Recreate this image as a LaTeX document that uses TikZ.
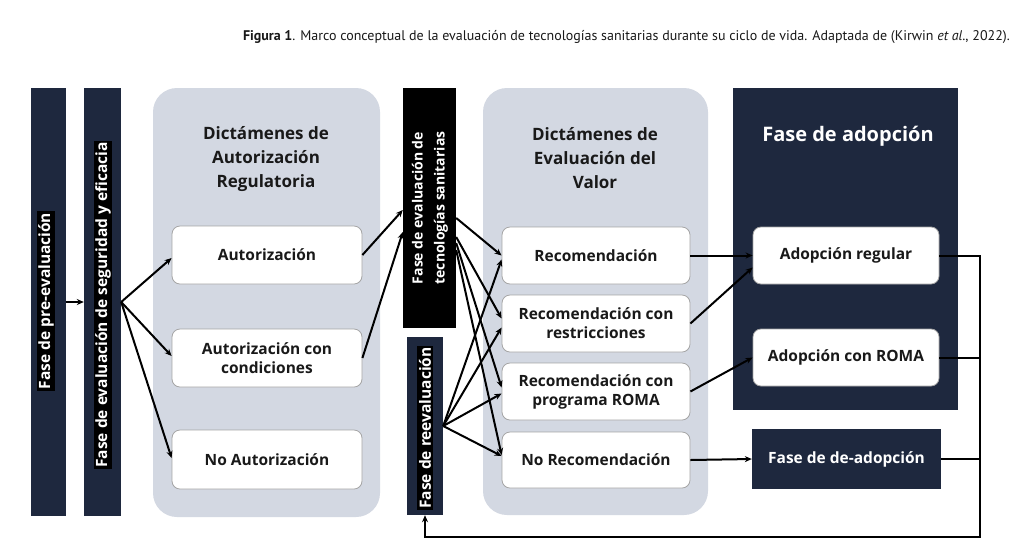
\documentclass[tikz,border=0pt]{standalone}
\usepackage{fontspec}
\setmainfont{Open Sans}
\newfontfamily\capfont{PT Sans}
\usetikzlibrary{arrows.meta,calc}
\definecolor{navy}{RGB}{30,40,62}
\definecolor{panelgray}{RGB}{211,216,226}
\definecolor{boxborder}{RGB}{165,165,165}
\definecolor{txt}{RGB}{25,25,25}
\tikzset{
  phase/.style={fill=navy, draw=none, inner sep=0pt},
  panel/.style={fill=panelgray, draw=none, rounded corners=24pt, inner sep=0pt},
  wbox/.style={fill=white, draw=boxborder, line width=0.8pt, rounded corners=8pt,
    font=\bfseries\fontsize{15.5}{19}\selectfont, align=center, text=txt, inner sep=0pt},
  vlabel/.style={rotate=90, fill=black, text=white,
    font=\bfseries\fontsize{15.5}{19}\selectfont, inner sep=1.5pt, align=center},
  ptitle/.style={font=\bfseries\fontsize{17}{24}\selectfont, align=center, text=txt},
  arr/.style={-{Stealth[length=7pt,width=6pt]}, line width=2pt},
  ln/.style={line width=2pt}
}
\begin{document}
\begin{tikzpicture}[x=1pt,y=-1pt]
\useasboundingbox (0,0) rectangle (1024,558);
\fill[white] (0,0) rectangle (1024,558);

% caption
\node[anchor=east, inner sep=0pt, font=\capfont\fontsize{14}{16}\selectfont, text=txt] (cap) at (1010,37)
  {\textbf{Figura 1}. Marco conceptual de la evaluación de tecnologías sanitarias durante su ciclo de vida. Adaptada de (Kirwin \textit{et al.}, 2022).};

% phase bars
\node[phase, minimum width=35pt, minimum height=428pt] (bar1) at (48,302) {};
\node[vlabel] (bar1l) at (46,301) {Fase de pre-evaluación};
\node[phase, minimum width=37pt, minimum height=428pt] (bar2) at (102.5,302) {};
\node[vlabel] (bar2l) at (103,305) {Fase de evaluación de seguridad y eficacia};

% panel 1
\node[panel, minimum width=227pt, minimum height=429pt] (p1) at (266.5,302.5) {};
\node[ptitle] (t1) at (266,159) {Dictámenes de\\Autorización\\Regulatoria};
\node[wbox, minimum width=190pt, minimum height=58pt] (aut) at (267,255) {Autorización};
\node[wbox, minimum width=190pt, minimum height=58pt] (autc) at (267,358) {Autorización con\\condiciones};
\node[wbox, minimum width=190pt, minimum height=59pt] (noaut) at (267,459.5) {No Autorización};

% HTA and reevaluation
\node[fill=black, minimum width=53pt, minimum height=240pt, inner sep=0pt] (hta) at (429.5,208) {};
\node[vlabel, font=\bfseries\fontsize{14}{22}\selectfont] (htal) at (430,208) {Fase de evaluación de\\tecnologías sanitarias};
\node[phase, minimum width=36pt, minimum height=178pt] (reev) at (425,426) {};
\node[vlabel] (reevl) at (425,428) {Fase de reevaluación};

% panel 2
\node[panel, minimum width=225pt, minimum height=427pt] (p2) at (595.5,301.5) {};
\node[ptitle] (t2) at (595,158) {Dictámenes de\\Evaluación del\\Valor};
\node[wbox, minimum width=188pt, minimum height=57pt] (rec) at (596,255.5) {Recomendación};
\node[wbox, minimum width=188pt, minimum height=57pt] (rres) at (596,323.5) {Recomendación con\\restricciones};
\node[wbox, minimum width=188pt, minimum height=57pt] (rroma) at (596,391.5) {Recomendación con\\programa ROMA};
\node[wbox, minimum width=188pt, minimum height=56pt] (norec) at (596,460) {No Recomendación};

% adoption
\node[phase, minimum width=225pt, minimum height=322pt] (adop) at (845.5,249) {};
\node[font=\bfseries\fontsize{20}{24}\selectfont, text=white] (adopt) at (848,136) {Fase de adopción};
\node[wbox, minimum width=186pt, minimum height=57pt] (adreg) at (846,255.5) {Adopción regular};
\node[wbox, minimum width=186pt, minimum height=57pt] (adroma) at (846,357.5) {Adopción con ROMA};
\node[phase, minimum width=189pt, minimum height=60pt, text=white,
  font=\bfseries\fontsize{15.5}{19}\selectfont] (deadop) at (846.5,459) {Fase de de-adopción};

% connectors
\draw[arr] (bar1.east) -- (bar2.west);
\draw[arr] (bar2.east) -- ($(aut.west)+(0,3)$);
\draw[arr] (bar2.east) -- ($(autc.west)+(0,-2)$);
\draw[arr] (bar2.east) -- ($(noaut.west)+(0,-1.5)$);

\draw[arr] (aut.east) -- ($(hta.west)+(0,2)$);
\draw[arr] (autc.east) -- ($(hta.west)+(0,24)$);

\draw[arr] ($(hta.east)+(0,10)$) -- ($(rec.west)+(0,0)$);
\draw[arr] ($(hta.east)+(0,29)$) -- ($(rres.west)+(0,-5)$);
\draw[arr] ($(hta.east)+(0,35)$) -- ($(rroma.west)+(0,-4)$);
\draw[arr] ($(hta.east)+(0,42)$) -- ($(norec.west)+(0,-5)$);

\draw[arr] (reev.east) -- ($(rec.west)+(0,4)$);
\draw[arr] (reev.east) -- ($(rres.west)+(0,4)$);
\draw[arr] (reev.east) -- ($(rroma.west)+(0,2)$);
\draw[arr] (reev.east) -- ($(norec.west)+(0,-4)$);

\draw[arr] (rec.east) -- (adreg.west);
\draw[arr] (rres.east) -- ($(adreg.west)+(0,12)$);
\draw[arr] (rroma.east) -- (adroma.west);
\draw[arr] (norec.east) -- (deadop.west);

% feedback loop
\coordinate (lb) at (980,537);
\draw[arr] (adreg.east) -- (adreg.east -| lb) -- (lb) -- (reev.south |- lb) -- (reev.south);
\draw[ln] (adroma.east) -- (adroma.east -| lb);
\draw[ln] (deadop.east) -- (deadop.east -| lb);
\end{tikzpicture}
\end{document}
